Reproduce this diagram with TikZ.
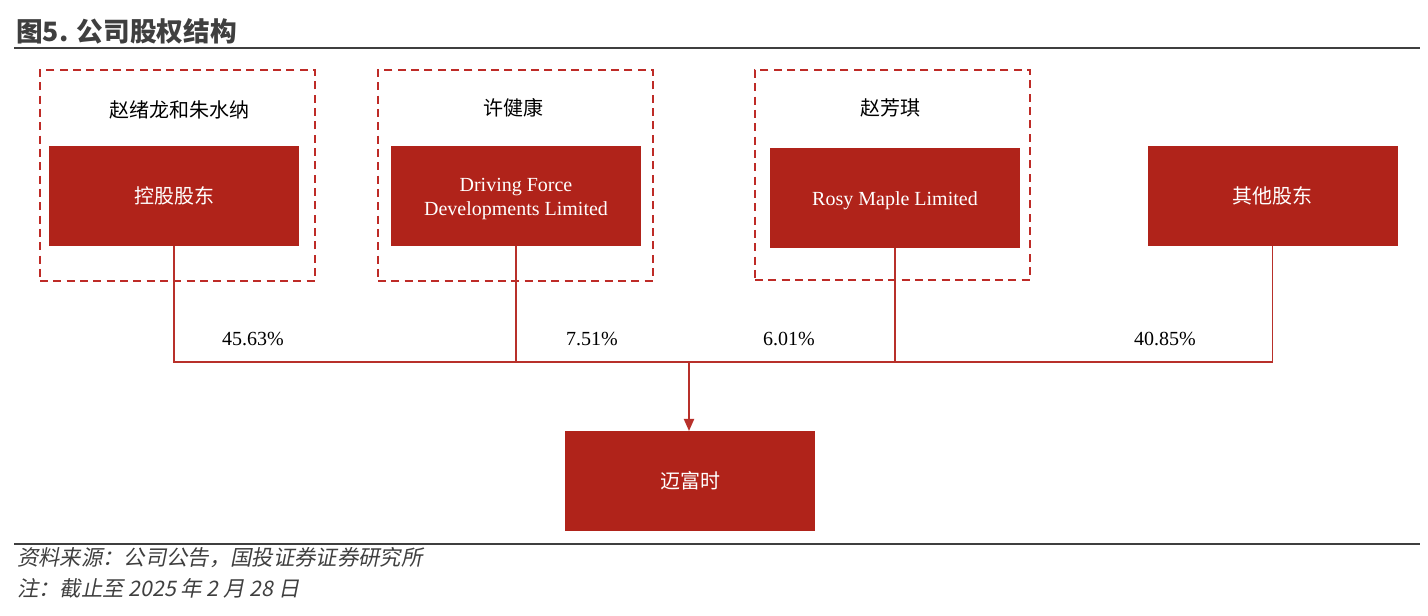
\documentclass[tikz,border=0pt]{standalone}
\usepackage{fontspec}
\setmainfont{Liberation Serif}
\newfontfamily\cjk{Noto Sans CJK SC}
\newfontfamily\cjkit[FakeSlant=0.2]{Noto Sans CJK SC}
\usetikzlibrary{arrows.meta}
\definecolor{boxred}{HTML}{B0231A}
\definecolor{linered}{HTML}{B8302A}
\definecolor{dashred}{HTML}{BE2B27}
\definecolor{titlegray}{HTML}{3F3F3F}
\newcommand{\lowertext}[1]{\raisebox{-2.25pt}[\height][\depth]{#1}}
\begin{document}
\begin{tikzpicture}[x=0.75pt,y=-0.75pt,
  redbox/.style={fill=boxred,draw=none,minimum width=250*0.75pt,minimum height=100*0.75pt,inner sep=0pt,outer sep=0pt,text=white,font=\fontsize{15pt}{18pt}\selectfont,align=center},
  dashbox/.style={draw=dashred,line width=1.6pt,dash pattern=on 6pt off 4pt,minimum width=275*0.75pt,minimum height=211*0.75pt,inner sep=0pt,outer sep=0pt},
  namelbl/.style={font=\cjk\fontsize{15pt}{18pt}\selectfont,text=black,inner sep=0pt},
  pct/.style={font=\fontsize{15pt}{18pt}\selectfont,text=black,inner sep=0pt},
  conn/.style={draw=linered,line width=1.4pt},
  arr/.style={conn,-{Triangle[width=7.5pt,length=9pt]}}
]
\useasboundingbox[fill=white] (0,0) rectangle (1428,616);
% title
\node[anchor=west,inner sep=0pt,font=\cjk\bfseries\fontsize{20pt}{24pt}\selectfont,text=titlegray] (title) at (16,31) {图5. 公司股权结构};
\draw[titlegray,line width=1pt] (14,48) -- (1420,48);
% dashed groups
\node[dashbox] (g1) at (177.5,175.5) {};
\node[dashbox] (g2) at (515.5,175.5) {};
\node[dashbox,minimum height=210*0.75pt] (g3) at (892.5,175) {};
\node[namelbl] (n1) at (179,110) {赵绪龙和朱水纳};
\node[namelbl] (n2) at (513,108) {许健康};
\node[namelbl] (n3) at (890,108) {赵芳琪};
% boxes
\node[redbox] (b1) at (174,196) {\cjk 控股股东};
\node[redbox] (b2) at (516,196) {\lowertext{\begin{tabular}{@{}c@{}}Driving Force\\Developments Limited\end{tabular}}};
\node[redbox] (b3) at (895,198) {\lowertext{Rosy Maple Limited}};
\node[redbox] (b4) at (1272.5,196) {\cjk 其他股东};
\node[redbox] (b5) at (690,481) {\cjk 迈富时};
% connectors
\coordinate (j) at (689,362);
\draw[conn] (b1.south) |- (j) -| (b4.south);
\draw[conn] (b2.south) -- (b2.south |- j);
\draw[conn] (b3.south) -- (b3.south |- j);
\draw[arr] (j) -- (j |- b5.north);
% percentages
\node[pct] (p1) at (253,339) {45.63\%};
\node[pct] (p2) at (592,339) {7.51\%};
\node[pct] (p3) at (789,339) {6.01\%};
\node[pct] (p4) at (1165,339) {40.85\%};
% footer
\draw[titlegray,line width=2pt] (14,544) -- (1420,544);
\node[anchor=west,inner sep=0pt,font=\cjkit\fontsize{16pt}{19pt}\selectfont,text=titlegray] (src) at (17,558) {资料来源：公司公告，国投证券证券研究所};
\node[anchor=west,inner sep=0pt,font=\cjkit\fontsize{16pt}{19pt}\selectfont,text=titlegray] (note) at (17,588) {注：截止至 2025 年 2 月 28 日};
\end{tikzpicture}
\end{document}
